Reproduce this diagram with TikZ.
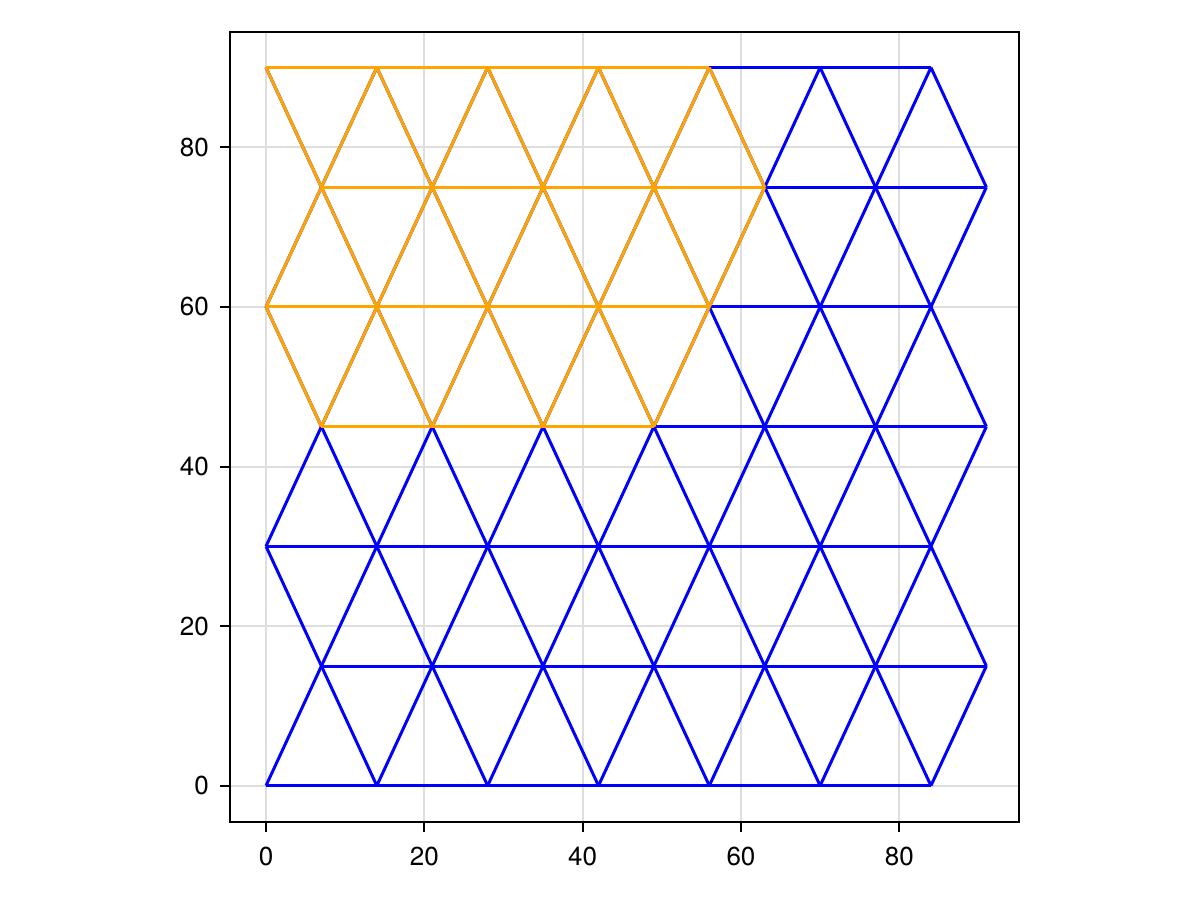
\documentclass[tikz,border=0pt]{standalone}
\usepackage{fontspec}
\setmainfont{TeX Gyre Heros}
\definecolor{meshblue}{HTML}{0000FF}
\definecolor{meshorange}{HTML}{FFA500}
\definecolor{gridgray}{HTML}{DEDEDE}
\tikzset{
  bluemesh/.style={draw=meshblue, line width=3pt},
  orangemesh/.style={draw=meshorange, line width=3pt},
  gridline/.style={draw=gridgray, line width=2pt},
  spine/.style={draw=black, line width=2pt},
  tickmark/.style={draw=black, line width=2pt},
  ticklabel/.style={inner sep=0pt, font=\fontsize{26}{31}\selectfont},
}
\begin{document}
\begin{tikzpicture}[x=1pt,y=-1pt]
\useasboundingbox[fill=white] (0,0) rectangle (1200,900);
\begin{scope}[shift={(266pt,-785.7pt)}, x=7.916pt, y=7.98pt]
  % grid
  \foreach \v in {0,20,40,60,80}{
    \draw[gridline] (\v,-4.511) -- (\v,94.41);
    \draw[gridline] (-4.548,\v) -- (95.16,\v);
  }
  % mesh vertices
  \foreach \j in {0,...,6}{
    \foreach \i in {0,...,6}{
      \pgfmathsetmacro\xx{14*\i+7*mod(\j,2)}
      \coordinate (p\i-\j) at (\xx,15*\j);
    }
  }
  % blue mesh
  \foreach \j in {0,...,6}{\draw[bluemesh] (p0-\j) -- (p6-\j);}
  \foreach \j in {0,...,5}{
    \pgfmathtruncatemacro\k{\j+1}
    \foreach \i in {0,...,6}{\draw[bluemesh] (p\i-\j) -- (p\i-\k);}
    \foreach \i in {0,...,5}{
      \pgfmathtruncatemacro\ip{\i+1}
      \ifodd\j\relax
        \draw[bluemesh] (p\i-\j) -- (p\ip-\k);
      \else
        \draw[bluemesh] (p\ip-\j) -- (p\i-\k);
      \fi
    }
  }
  % orange mesh
  \draw[orangemesh] (p0-3) -- (p3-3);
  \foreach \j in {4,5,6}{\draw[orangemesh] (p0-\j) -- (p4-\j);}
  \foreach \i in {0,...,3}{
    \pgfmathtruncatemacro\ip{\i+1}
    \draw[orangemesh] (p\i-3) -- (p\i-4);
    \draw[orangemesh] (p\i-3) -- (p\ip-4);
    \draw[orangemesh] (p\ip-4) -- (p\i-5);
    \draw[orangemesh] (p\i-5) -- (p\ip-6);
  }
  \foreach \i in {0,...,4}{
    \draw[orangemesh] (p\i-4) -- (p\i-5);
    \draw[orangemesh] (p\i-5) -- (p\i-6);
  }
  % axes box
  \draw[spine] (-4.548,-4.511) rectangle (95.16,94.41);
  % ticks and labels
  \foreach \v in {0,20,40,60,80}{
    \coordinate (xt\v) at (\v,-4.511);
    \coordinate (yt\v) at (-4.548,\v);
    \draw[tickmark] (xt\v) -- ++(0pt,-10pt);
    \draw[tickmark] (yt\v) -- ++(-10pt,0pt);
    \node[ticklabel, anchor=north] (xl\v) at ([yshift=-25.3pt]xt\v) {\v};
    \node[ticklabel, anchor=east] (yl\v) at ([xshift=-21pt]yt\v) {\v};
  }
\end{scope}
\end{tikzpicture}
\end{document}
